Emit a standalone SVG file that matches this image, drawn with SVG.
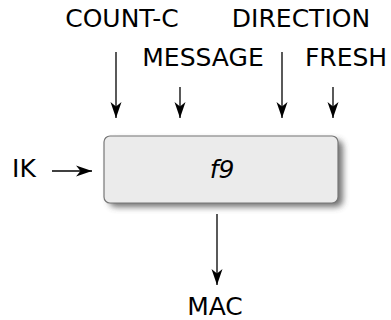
<svg xmlns="http://www.w3.org/2000/svg" width="391" height="320" viewBox="0 0 391 320">
  <style>
    .lbl { font-family: "DejaVu Sans", sans-serif; font-size: 25px; fill: #000; text-anchor: middle; }
    .fn { font-family: "DejaVu Sans", sans-serif; font-size: 25px; font-style: italic; fill: #000; text-anchor: middle; }
    .wire { stroke: #000; stroke-width: 1.3; fill: none; marker-end: url(#head); }
    .box { fill: #ebebeb; stroke: #777; stroke-width: 1.2; }
  </style>
  <defs>
    <marker id="head" markerWidth="18" markerHeight="12" viewBox="0 -6 18 12" refX="16" refY="0" orient="auto" markerUnits="userSpaceOnUse">
      <path d="M16,0 L0,-5.5 L4.5,0 L0,5.5 Z" fill="#000"/>
    </marker>
    <filter id="shadow" x="-10%" y="-20%" width="130%" height="150%">
      <feGaussianBlur stdDeviation="3"/>
    </filter>
  </defs>

  <!-- input and output wires -->
  <g id="connectors">
    <line class="wire" x1="116" y1="52" x2="116" y2="118"/>
    <line class="wire" x1="180" y1="87" x2="180" y2="118"/>
    <line class="wire" x1="282" y1="52" x2="282" y2="118"/>
    <line class="wire" x1="333" y1="87" x2="333" y2="118"/>
    <line class="wire" x1="52" y1="171" x2="92" y2="171"/>
    <line class="wire" x1="217" y1="214" x2="217" y2="285"/>
  </g>

  <!-- f9 function block -->
  <g id="f9">
    <rect x="109" y="140" width="234" height="67" rx="7" fill="#444" opacity="0.75" filter="url(#shadow)"/>
    <rect class="box" x="104" y="136" width="234" height="67" rx="6"/>
    <text class="fn" x="222" y="178">f9</text>
  </g>

  <g id="count-c"><text class="lbl" x="122" y="27">COUNT-C</text></g>
  <g id="direction"><text class="lbl" x="301" y="27">DIRECTION</text></g>
  <g id="message"><text class="lbl" x="203" y="66">MESSAGE</text></g>
  <g id="fresh"><text class="lbl" x="346" y="66">FRESH</text></g>
  <g id="ik"><text class="lbl" x="24" y="177">IK</text></g>
  <g id="mac"><text class="lbl" x="215" y="315">MAC</text></g>
</svg>
